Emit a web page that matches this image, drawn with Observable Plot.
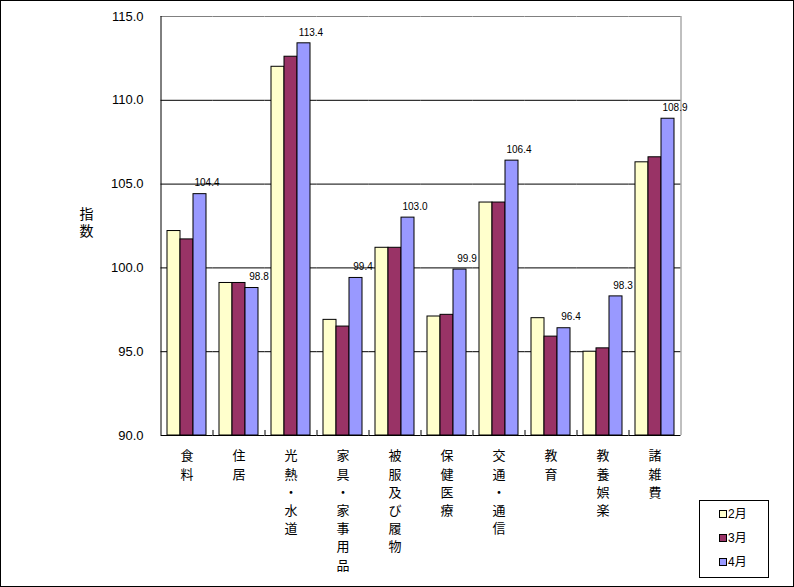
<!DOCTYPE html>
<html>
<head>
<meta charset="utf-8">
<script src="https://cdn.jsdelivr.net/npm/d3@7"></script>
<script src="https://cdn.jsdelivr.net/npm/@observablehq/plot@0.6"></script>
<style>
  html, body { margin: 0; padding: 0; background: #fff; }
  #wrap { position: relative; width: 794px; height: 587px; overflow: hidden; font-family: "Liberation Sans", "Noto Sans CJK JP", sans-serif; }
  #border { position: absolute; left: 0; top: 0; width: 792px; height: 585px; border: 1px solid #000; pointer-events: none; }
  #legend { position: absolute; left: 699px; top: 500px; width: 68px; height: 76px; border: 1px solid #000; background: #fff; font-size: 12px; }
  #legend .item { position: absolute; left: 19px; height: 14px; line-height: 14px; display: flex; align-items: center; }
  #legend .sw { width: 6px; height: 6px; border: 1px solid #000; margin-right: 1px; }
</style>
</head>
<body>
<div id="wrap">
  <div id="chart"></div>
  <div id="legend"></div>
  <div id="border"></div>
</div>
<script>
const categories = ["食料", "住居", "光熱・水道", "家具・家事用品", "被服及び履物", "保健医療", "交通・通信", "教育", "教養娯楽", "諸雑費"];
const months = ["2月", "3月", "4月"];
const feb = [102.2, 99.1, 112.0, 96.9, 101.2, 97.1, 103.9, 97.0, 95.0, 106.3];
const mar = [101.7, 99.1, 112.6, 96.5, 101.2, 97.2, 103.9, 95.9, 95.2, 106.6];
const apr = [104.4, 98.8, 113.4, 99.4, 103.0, 99.9, 106.4, 96.4, 98.3, 108.9];
const yTicks = [90, 95, 100, 105, 110, 115];
const colors = ["#FFFFCC", "#993366", "#9999FF"];

const series = [feb, mar, apr];
const data = [];
categories.forEach((c, i) => months.forEach((m, j) => data.push({category: c, month: m, value: series[j][i]})));
const aprData = data.filter(d => d.month === "4月");
const firstCat = [categories[0]];
const lastCat = [categories[categories.length - 1]];
const innerCats = categories.slice(0, -1);
const gridTicks = yTicks.filter(t => t > 90 && t < 115);

const plot = Plot.plot({
  width: 794,
  height: 587,
  marginLeft: 160,
  marginRight: 114,
  marginTop: 16,
  marginBottom: 152,
  style: {fontFamily: '"Liberation Sans", "Noto Sans CJK JP", sans-serif', background: "#fff", overflow: "visible"},
  fx: {domain: categories, paddingInner: 0.25, paddingOuter: 0.125, axis: null, label: null},
  x: {domain: months, padding: 0, axis: null},
  y: {domain: [90, 115], axis: null},
  color: {domain: months, range: colors},
  marks: [
    // gridlines (one per facet, extended over the gaps)
    Plot.ruleY(categories.flatMap(c => gridTicks.map(t => ({c, t}))), {fx: "c", y: "t", stroke: "#000", strokeWidth: 1, insetLeft: -6.5, insetRight: -6.5}),
    Plot.ruleY(categories, {fx: d => d, y: () => 115, stroke: "#808080", strokeWidth: 1, insetLeft: -6.5, insetRight: -6.5}),
    Plot.barY(data, {fx: "category", x: "month", y1: 90, y2: "value", fill: "month", stroke: "#000", strokeWidth: 1}),
    Plot.ruleY(categories, {fx: d => d, y: () => 90, stroke: "#000", strokeWidth: 1, insetLeft: -6.5, insetRight: -6.5}),
    // left axis line
    Plot.ruleX(firstCat, {fx: d => d, x: () => "2月", y1: 90, y2: 115, dx: -13, stroke: "#000"}),
    // right frame line
    Plot.ruleX(lastCat, {fx: d => d, x: () => "4月", y1: 90, y2: 115, dx: 13, stroke: "#808080"}),
    // category boundary ticks
    Plot.ruleX(innerCats, {fx: d => d, x: () => "4月", y1: 90, y2: 90.3, dx: 13, stroke: "#000"}),
    // y tick labels
    Plot.text(firstCat.flatMap(c => yTicks.map(t => ({c, t}))), {fx: "c", y: "t", text: d => d.t.toFixed(1), frameAnchor: "left", textAnchor: "end", dx: -24, fontSize: 13, fill: "#000"}),
    // y title
    Plot.text(firstCat, {fx: d => d, text: () => "指\n数", frameAnchor: "left", dx: -88, dy: -4, lineHeight: 1.2, fontSize: 14, fill: "#000"}),
    // value labels
    Plot.text(aprData, {fx: "category", x: "month", y: "value", text: d => d.value.toFixed(1), dy: -11, dx: 7, fontSize: 10, fill: "#000"}),
    // x category labels (vertical)
    Plot.text(categories, {fx: d => d, text: d => [...d].join("\n"), frameAnchor: "bottom", lineAnchor: "top", dy: 12, lineHeight: 1.4, fontSize: 13, fill: "#000"})
  ]
});
document.getElementById("chart").appendChild(plot);

const legend = document.getElementById("legend");
months.forEach((m, j) => {
  const item = document.createElement("div");
  item.className = "item";
  item.style.top = (6 + j * 24) + "px";
  const sw = document.createElement("span");
  sw.className = "sw";
  sw.style.background = colors[j];
  const t = document.createElement("span");
  t.textContent = m;
  item.appendChild(sw);
  item.appendChild(t);
  legend.appendChild(item);
});
</script>
</body>
</html>
